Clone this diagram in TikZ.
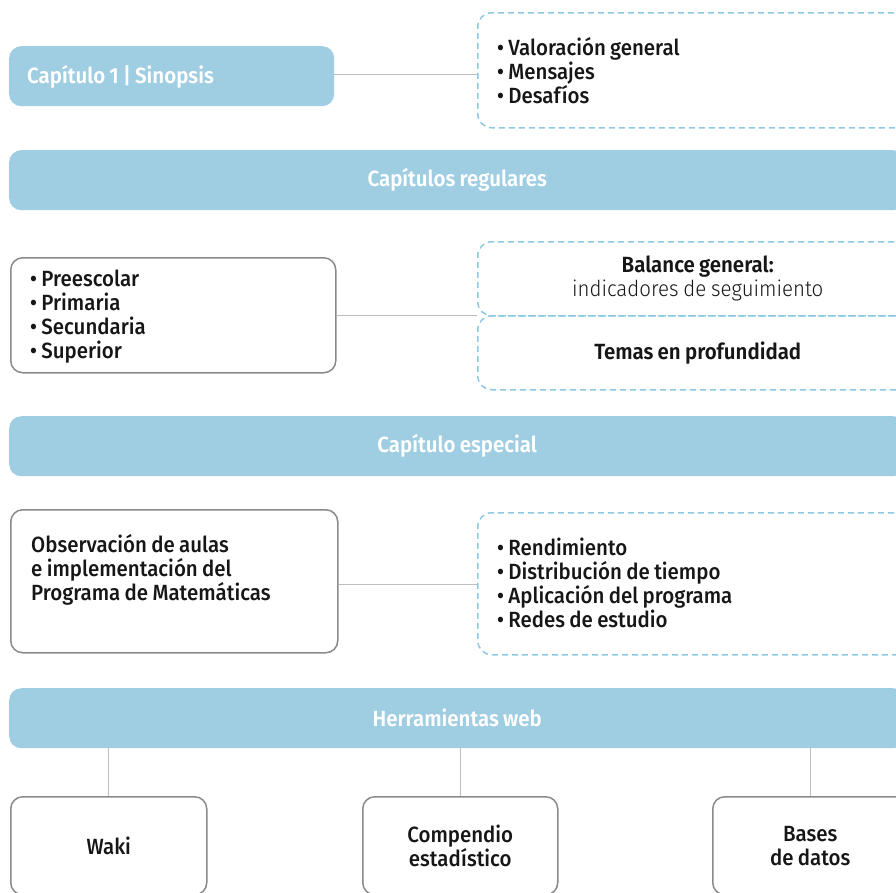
\documentclass[tikz,border=0pt]{standalone}
\usepackage{fontspec}
\setmainfont{Fira Sans}[UprightFont=* Medium, BoldFont=* SemiBold,
  FakeStretch=0.93, WordSpace=0.85]
\newfontfamily\lightfont{Fira Sans Light}[FakeStretch=0.93, WordSpace=0.85]
\definecolor{barblue}{HTML}{9FCDE2}
\definecolor{dashblue}{HTML}{8EC9E4}
\definecolor{boxgray}{HTML}{8A8A8A}
\definecolor{linegray}{HTML}{BDBDBD}
\definecolor{ink}{HTML}{161616}
\newcommand{\bodyfont}{\fontsize{22}{24}\selectfont}
\tikzset{
  bar/.style={fill=barblue, draw=none, rounded corners=12pt, text=white,
    font=\bodyfont\bfseries, inner sep=0pt},
  graybox/.style={draw=boxgray, line width=1.5pt, rounded corners=12pt,
    fill=white, text=ink, inner sep=0pt},
  dashbox/.style={draw=dashblue, line width=1.5pt, dash pattern=on 6pt off 4pt,
    rounded corners=14pt, text=ink, inner sep=0pt},
  lefttext/.style={anchor=west, align=left, inner sep=0pt, text=ink},
  link/.style={draw=linegray, line width=1pt},
}
\begin{document}
\begin{tikzpicture}[x=1pt, y=-1pt, font=\bodyfont]
\useasboundingbox (0,0) rectangle (896,892);

% Chapter 1
\node[bar, anchor=north west, minimum width=325pt, minimum height=60pt]
  (syn) at (9,46) {};
\node[lefttext, text=white, font=\bodyfont\bfseries] (syntext) at (27,77)
  {Capítulo 1 | Sinopsis};
\node[dashbox, anchor=north west, minimum width=440pt, minimum height=115pt]
  (dash1) at (477,12) {};
\node[lefttext] (dash1text) at (497,71)
  {• Valoración general\\• Mensajes\\• Desafíos};

% Regular chapters
\node[bar, anchor=north west, minimum width=896pt, minimum height=60pt] (reg)
  at (9,150) {Capítulos regulares};
\node[graybox, anchor=north west, minimum width=325pt, minimum height=115pt]
  (levels) at (10,257) {};
\node[lefttext] (levelstext) at (30,317)
  {• Preescolar\\• Primaria\\• Secundaria\\• Superior};
\node[dashbox, anchor=north west, minimum width=440pt, minimum height=74pt,
  align=center] (balance) at (477,241)
  {{\bfseries Balance general:}\\{\lightfont indicadores de seguimiento}};
\node[dashbox, anchor=north west, minimum width=440pt, minimum height=74pt,
  align=center, font=\bodyfont\bfseries] (temas) at (477,315)
  {Temas en profundidad};

% Special chapter
\node[bar, anchor=north west, minimum width=896pt, minimum height=60pt] (esp)
  at (9,416) {Capítulo especial};
\node[graybox, anchor=north west, minimum width=327pt, minimum height=143pt]
  (obs) at (10,509) {};
\node[lefttext] (obstext) at (31,570)
  {Observación de aulas\\e implementación del\\Programa de Matemáticas};
\node[dashbox, anchor=north west, minimum width=440pt, minimum height=142pt]
  (dash3) at (477,512) {};
\node[lefttext] (dash3text) at (497,583)
  {• Rendimiento\\• Distribución de tiempo\\• Aplicación del programa\\• Redes de estudio};

% Web tools
\node[bar, anchor=north west, minimum width=896pt, minimum height=60pt] (web)
  at (9,688) {Herramientas web};
\node[graybox, anchor=north west, minimum width=196pt, minimum height=98pt,
  align=center] (waki) at (10,796) {Waki};
\node[graybox, anchor=north west, minimum width=195pt, minimum height=98pt,
  align=center] (comp) at (362,796) {Compendio\\estadístico};
\node[graybox, anchor=north west, minimum width=195pt, minimum height=98pt,
  align=center] (bases) at (712,796) {Bases\\de datos};

% Connectors
\draw[link] ([yshift=2pt]syn.east) -- ([yshift=2pt]syn.east -| dash1.west);
\draw[link] (levels.east) -- (levels.east -| balance.south west);
\draw[link] ([yshift=-3pt]obs.east) -- ([yshift=-3pt]obs.east -| dash3.west);
\draw[link] (waki.north |- web.south) -- (waki.north);
\draw[link] (comp.north |- web.south) -- (comp.north);
\draw[link] (bases.north |- web.south) -- (bases.north);
\end{tikzpicture}
\end{document}
